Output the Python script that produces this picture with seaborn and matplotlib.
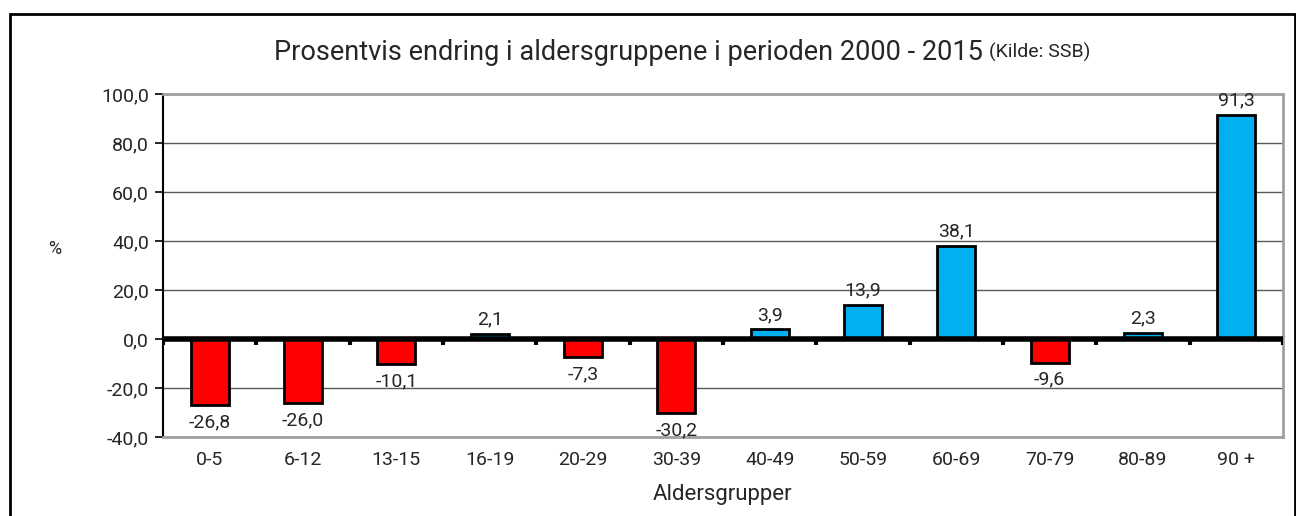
import matplotlib
matplotlib.use("Agg")
import matplotlib.pyplot as plt
import seaborn as sns
import pandas as pd
import numpy as np
from matplotlib.patches import Rectangle

categories = ["0-5", "6-12", "13-15", "16-19", "20-29", "30-39", "40-49",
              "50-59", "60-69", "70-79", "80-89", "90 +"]
values = [-26.8, -26.0, -10.1, 2.1, -7.3, -30.2, 3.9, 13.9, 38.1, -9.6, 2.3, 91.3]
yticks = [-40, -20, 0, 20, 40, 60, 80, 100]

sns.set_theme(style="white")
FONT = ["Roboto", "DejaVu Sans"]
plt.rcParams["font.family"] = FONT

df = pd.DataFrame({"cat": categories, "val": values})
df["sign"] = np.where(df["val"] < 0, "neg", "pos")

fig = plt.figure(figsize=(12.96, 5.16), dpi=100)
ax = fig.add_axes([163/1296, 1-437/516, (1283-163)/1296, (437-94)/516])

sns.barplot(data=df, x="cat", y="val", hue="sign",
            palette={"neg": "#FF0000", "pos": "#00B0F0"}, saturation=1,
            dodge=False, width=0.41, edgecolor="black", linewidth=2,
            legend=False, ax=ax, zorder=3)

ax.set_ylim(-40, 100)
ax.set_xlim(-0.5, len(categories) - 0.5)
ax.set_yticks(yticks)
ax.set_yticklabels([f"{v:.1f}".replace(".", ",") for v in yticks], fontsize=14)
ax.set_xticks(range(len(categories)))
ax.set_xticklabels(categories, fontsize=14)
ax.tick_params(axis="x", length=0, pad=10)
ax.tick_params(axis="y", length=6, width=1.2, color="black", direction="out", pad=4, left=True)
ax.yaxis.grid(True, color="#5a5a5a", linewidth=1, zorder=0)
ax.set_axisbelow(True)

for s in ["top", "right", "bottom"]:
    ax.spines[s].set_color("#a0a0a0")
    ax.spines[s].set_linewidth(2)
ax.spines["left"].set_color("black")
ax.spines["left"].set_linewidth(1.5)

ax.axhline(0, color="black", linewidth=4, zorder=4)
for b in np.arange(-0.5, len(categories), 1.0):
    ax.plot([b, b], [0, -2.4], color="black", linewidth=3, zorder=4, solid_capstyle="butt")

for i, v in enumerate(values):
    lab = f"{v:.1f}".replace(".", ",")
    if v >= 0:
        ax.annotate(lab, (i, v), xytext=(0, 4), textcoords="offset points",
                    ha="center", va="bottom", fontsize=14, zorder=5)
    else:
        ax.annotate(lab, (i, v), xytext=(0, -6), textcoords="offset points",
                    ha="center", va="top", fontsize=14, zorder=5)

ax.set_xlabel("Aldersgrupper", fontsize=16, labelpad=11)
ax.set_ylabel("")
fig.text(55/1296, 1-249/516, "%", fontsize=13, ha="center", va="center")

fig.canvas.draw()
r = fig.canvas.get_renderer()
ta = fig.text(0, 1-52/516, "Prosentvis endring i aldersgruppene i perioden 2000 - 2015 ",
              fontsize=19.5, ha="left", va="center")
tb = fig.text(0, 1-52/516, "(Kilde: SSB)", fontsize=14, ha="left", va="center")
wa = ta.get_window_extent(r).width
wb = tb.get_window_extent(r).width
x0 = 682 - (wa + wb) / 2
ta.set_x(x0/1296)
tb.set_x((x0 + wa)/1296)

fig.add_artist(Rectangle((10/1296, -0.05), (1295-10)/1296, (516-14)/516 + 0.05,
                         transform=fig.transFigure, fill=False, edgecolor="black",
                         linewidth=2, clip_on=False))

fig.savefig("out.png", dpi=100, facecolor="white")
